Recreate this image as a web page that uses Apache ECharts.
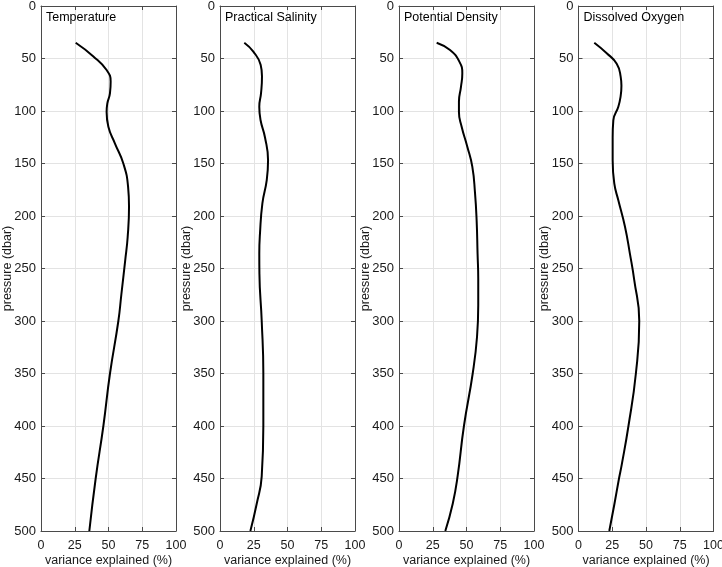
<!DOCTYPE html>
<html>
<head>
<meta charset="utf-8">
<script src="https://cdn.jsdelivr.net/npm/echarts@6/dist/echarts.min.js"></script>
<style>
html,body{margin:0;padding:0;background:#fff;}
#chart{width:722px;height:567px;}
</style>
</head>
<body>
<div id="chart"></div>
<script>
// ---- data ----
var panelTitles = ["Temperature", "Practical Salinity", "Potential Density", "Dissolved Oxygen"];
var xTicks = [0, 25, 50, 75, 100];
var yTicks = [0, 50, 100, 150, 200, 250, 300, 350, 400, 450, 500];

var tempPressure = [35, 48, 61, 72, 83, 93, 101, 115, 131, 150, 172, 191, 220, 242, 275, 300, 350, 400, 450, 500];
var tempVariance = [25.7, 38.8, 48.6, 51.6, 51.1, 49.1, 48.6, 49.9, 54.8, 61.0, 64.5, 65.2, 64.2, 62.4, 59.5, 57.3, 51.1, 46.2, 40.5, 35.8];

var salPressure = [35, 43.5, 56, 67, 83, 96, 109, 125, 147, 166, 188, 217, 236, 255, 300, 350, 400, 448, 474, 500];
var salVariance = [18.0, 24.7, 30.1, 31.1, 30.4, 29.1, 30.1, 33.3, 35.6, 34.6, 31.4, 29.6, 29.1, 29.2, 30.9, 32.1, 32.1, 30.9, 27.2, 22.5];

var densPressure = [35, 42, 53, 64, 77, 91, 101, 115, 134, 153, 178, 204, 236, 260, 285, 315, 350, 400, 448, 474, 500];
var densVariance = [27.9, 37.8, 44.7, 46.9, 45.9, 44.4, 44.4, 46.4, 50.6, 54.3, 56.3, 57.5, 58.2, 58.7, 58.7, 57.8, 54.6, 48.1, 43.4, 39.8, 34.3];

var oxyPressure = [35, 45, 55, 67, 76, 86, 96, 109, 125, 147, 169, 185, 210, 236, 261, 300, 350, 400, 437, 450, 475, 500];
var oxyVariance = [11.7, 20.9, 28.3, 31.2, 31.8, 31.2, 29.5, 25.8, 25.3, 25.3, 26.5, 29.5, 34.4, 38.1, 41.3, 45.0, 42.5, 37.0, 32.0, 30.0, 26.5, 22.8];

var pressures = [tempPressure, salPressure, densPressure, oxyPressure];
var variances = [tempVariance, salVariance, densVariance, oxyVariance];

// ---- chart ----
var FONT = "'Liberation Sans', Arial, Helvetica, sans-serif";
var AXIS_COLOR = "#4a4a4a";
var GRID_COLOR = "#e3e3e3";
var lefts = [41, 220, 399, 578.5];
var grids = [], xAxes = [], yAxes = [], series = [], titles = [];

for (var i = 0; i < 4; i++) {
  grids.push({left: lefts[i], top: 6, width: 135, height: 525, containLabel: false, outerBoundsMode: 'none'});
  var tick = {show: true, inside: true, length: 4, lineStyle: {color: AXIS_COLOR}};
  xAxes.push({
    type: 'value', gridIndex: i, position: 'bottom', min: 0, max: 100, interval: 25,
    name: 'variance explained (%)', nameLocation: 'middle', nameGap: 23, nameMoveOverlap: false,
    nameTextStyle: {fontFamily: FONT, fontSize: 12.5, color: '#1a1a1a'},
    axisLine: {show: true, onZero: false, lineStyle: {color: AXIS_COLOR, width: 1}},
    axisTick: tick,
    axisLabel: {fontFamily: FONT, fontSize: 12.5, color: '#1a1a1a', margin: 8,
      formatter: function (v) { return xTicks.indexOf(v) >= 0 ? String(v) : ''; }},
    splitLine: {show: true, lineStyle: {color: GRID_COLOR, width: 1}}
  });
  xAxes.push({
    type: 'value', gridIndex: i, position: 'top', min: 0, max: 100, interval: 25,
    axisLine: {show: true, onZero: false, lineStyle: {color: AXIS_COLOR, width: 1}},
    axisTick: tick, axisLabel: {show: false}, splitLine: {show: false}
  });
  yAxes.push({
    type: 'value', gridIndex: i, position: 'left', inverse: true, min: 0, max: 500, interval: 50,
    name: 'pressure (dbar)', nameLocation: 'middle', nameGap: 27, nameRotate: 90, nameMoveOverlap: false,
    nameTextStyle: {fontFamily: FONT, fontSize: 12.5, color: '#1a1a1a'},
    axisLine: {show: true, onZero: false, lineStyle: {color: AXIS_COLOR, width: 1}},
    axisTick: tick,
    axisLabel: {fontFamily: FONT, fontSize: 13, color: '#1a1a1a', margin: 5,
      formatter: function (v) { return yTicks.indexOf(v) >= 0 ? String(v) : ''; }},
    splitLine: {show: true, lineStyle: {color: GRID_COLOR, width: 1}}
  });
  yAxes.push({
    type: 'value', gridIndex: i, position: 'right', inverse: true, min: 0, max: 500, interval: 50,
    axisLine: {show: true, onZero: false, lineStyle: {color: AXIS_COLOR, width: 1}},
    axisTick: tick, axisLabel: {show: false}, splitLine: {show: false}
  });
  var d = [];
  for (var k = 0; k < pressures[i].length; k++) d.push([variances[i][k], pressures[i][k]]);
  series.push({
    type: 'line', xAxisIndex: 2 * i, yAxisIndex: 2 * i, data: d,
    showSymbol: false, smooth: 0.5, silent: true,
    lineStyle: {color: '#000', width: 2}
  });
  titles.push({
    text: panelTitles[i], left: lefts[i] + 5, top: 11, padding: 0,
    textStyle: {fontFamily: FONT, fontSize: 12.5, fontWeight: 'normal', color: '#000'}
  });
}

var chart = echarts.init(document.getElementById('chart'), null, {renderer: 'canvas'});
chart.setOption({
  animation: false,
  backgroundColor: '#fff',
  title: titles,
  grid: grids,
  xAxis: xAxes,
  yAxis: yAxes,
  series: series
});
</script>
</body>
</html>
